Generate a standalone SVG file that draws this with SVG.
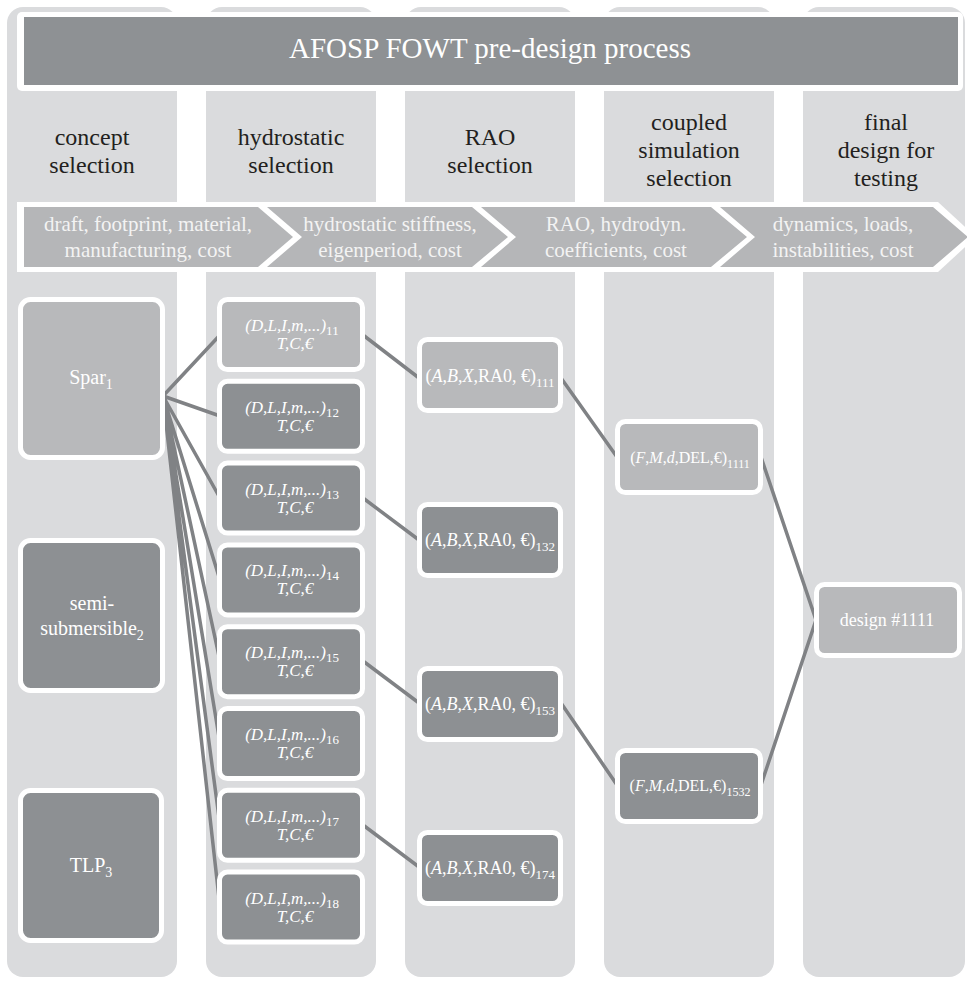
<svg xmlns="http://www.w3.org/2000/svg" width="967" height="982" viewBox="0 0 967 982" font-family="'Liberation Serif', 'Times New Roman', Times, 'DejaVu Serif', serif">
<style>
.col{fill:#dadbdd}
.nd{stroke:#fff;stroke-width:5}
.lt{fill:#b8b9bb}
.dk{fill:#8d9093}
.arw{fill:#b5b6b8}
text{font-family:'Liberation Serif','Times New Roman',Times,'DejaVu Serif',serif}
.t{fill:#fff;text-anchor:middle}
.at{fill:#f3f3f3;text-anchor:middle;font-size:21px}
.h{fill:#231f20;font-size:24px;text-anchor:middle}
.i{font-style:italic}
.cn{stroke:#808285;stroke-width:3.5;fill:none}
</style>
<rect width="967" height="982" fill="#fff"/>
<g id="columns">
<rect class="col" x="7" y="7" width="170" height="970" rx="16"/>
<rect class="col" x="206" y="7" width="170" height="970" rx="16"/>
<rect class="col" x="405" y="7" width="170" height="970" rx="16"/>
<rect class="col" x="604" y="7" width="170" height="970" rx="16"/>
<rect class="col" x="803" y="7" width="162" height="970" rx="16"/>
</g>
<g id="title">
<rect x="17" y="12" width="946" height="79" rx="5" fill="#fff"/>
<rect x="24" y="17" width="934" height="68" fill="#8e9194"/>
<text class="t" x="490" y="58" font-size="29">AFOSP FOWT pre-design process</text>
</g>
<g id="headers">
<text class="h" x="92" y="145">concept</text>
<text class="h" x="92" y="173">selection</text>
<text class="h" x="291" y="145">hydrostatic</text>
<text class="h" x="291" y="173">selection</text>
<text class="h" x="490" y="145">RAO</text>
<text class="h" x="490" y="173">selection</text>
<text class="h" x="689" y="130">coupled</text>
<text class="h" x="689" y="158">simulation</text>
<text class="h" x="689" y="186">selection</text>
<text class="h" x="886" y="130">final</text>
<text class="h" x="886" y="158">design for</text>
<text class="h" x="886" y="186">testing</text>
</g>
<g id="band">
<polygon points="17,202 938,202 976,237 938,272 17,272" fill="#fff"/>
<polygon class="arw" points="24,207 258,207 293,237 258,267 24,267"/>
<polygon class="arw" points="267,207 472,207 508,237 472,267 267,267 302,237"/>
<polygon class="arw" points="481,207 711,207 747,237 711,267 481,267 516,237"/>
<polygon class="arw" points="720,207 933,207 968,237 933,267 720,267 755,237"/>
<text class="at" x="148" y="231">draft, footprint, material,</text>
<text class="at" x="148" y="257">manufacturing, cost</text>
<text class="at" x="390" y="231">hydrostatic stiffness,</text>
<text class="at" x="390" y="257">eigenperiod, cost</text>
<text class="at" x="616" y="231">RAO, hydrodyn.</text>
<text class="at" x="616" y="257">coefficients, cost</text>
<text class="at" x="843" y="231">dynamics, loads,</text>
<text class="at" x="843" y="257">instabilities, cost</text>
</g>
<g id="connectors">
<path class="cn" d="M163,396 L220,335 M163,396 L220,416 M163,396 L220,498 M163,396 L220,580 M163,396 L220,661 M163,396 L220,743 M163,396 L220,825 M163,396 L220,907"/>
<path class="cn" d="M363,335 L419,378 M363,498 L419,540 M363,661 L419,703 M363,825 L419,867"/>
<path class="cn" d="M561,378 L617,457 M561,703 L617,785"/>
<path class="cn" d="M761,457 L816,620 L761,785"/>
</g>
<g id="spar">
<rect class="nd lt" x="20.5" y="299.5" width="142" height="158" rx="10"/>
<text class="t" x="91" y="384" font-size="20">Spar<tspan font-size="14" dy="5">1</tspan></text>
</g>
<g id="semi">
<rect class="nd dk" x="20.5" y="540.5" width="142" height="150" rx="10"/>
<text class="t" x="92" y="610" font-size="20">semi-</text>
<text class="t" x="92" y="635" font-size="20">submersible<tspan font-size="14" dy="5">2</tspan></text>
</g>
<g id="tlp">
<rect class="nd dk" x="20.5" y="790.5" width="141" height="150" rx="10"/>
<text class="t" x="91" y="872" font-size="20">TLP<tspan font-size="14" dy="5">3</tspan></text>
</g>
<g id="h11">
<rect class="nd lt" x="219.5" y="299.5" width="143" height="70" rx="8"/>
<text class="t" x="292" y="331" font-size="17"><tspan class="i">(D,L,I,m,...)</tspan><tspan font-size="13" dy="4">11</tspan></text>
<text class="t i" x="295" y="349" font-size="17">T,C,€</text>
</g>
<g id="h12">
<rect class="nd dk" x="219.5" y="381.3" width="143" height="70" rx="8"/>
<text class="t" x="292" y="412.8" font-size="17"><tspan class="i">(D,L,I,m,...)</tspan><tspan font-size="13" dy="4">12</tspan></text>
<text class="t i" x="295" y="430.8" font-size="17">T,C,€</text>
</g>
<g id="h13">
<rect class="nd dk" x="219.5" y="463.1" width="143" height="70" rx="8"/>
<text class="t" x="292" y="494.6" font-size="17"><tspan class="i">(D,L,I,m,...)</tspan><tspan font-size="13" dy="4">13</tspan></text>
<text class="t i" x="295" y="512.6" font-size="17">T,C,€</text>
</g>
<g id="h14">
<rect class="nd dk" x="219.5" y="544.9" width="143" height="70" rx="8"/>
<text class="t" x="292" y="576.4" font-size="17"><tspan class="i">(D,L,I,m,...)</tspan><tspan font-size="13" dy="4">14</tspan></text>
<text class="t i" x="295" y="594.4" font-size="17">T,C,€</text>
</g>
<g id="h15">
<rect class="nd dk" x="219.5" y="626.7" width="143" height="70" rx="8"/>
<text class="t" x="292" y="658.2" font-size="17"><tspan class="i">(D,L,I,m,...)</tspan><tspan font-size="13" dy="4">15</tspan></text>
<text class="t i" x="295" y="676.2" font-size="17">T,C,€</text>
</g>
<g id="h16">
<rect class="nd dk" x="219.5" y="708.5" width="143" height="70" rx="8"/>
<text class="t" x="292" y="740" font-size="17"><tspan class="i">(D,L,I,m,...)</tspan><tspan font-size="13" dy="4">16</tspan></text>
<text class="t i" x="295" y="758" font-size="17">T,C,€</text>
</g>
<g id="h17">
<rect class="nd dk" x="219.5" y="790.3" width="143" height="70" rx="8"/>
<text class="t" x="292" y="821.8" font-size="17"><tspan class="i">(D,L,I,m,...)</tspan><tspan font-size="13" dy="4">17</tspan></text>
<text class="t i" x="295" y="839.8" font-size="17">T,C,€</text>
</g>
<g id="h18">
<rect class="nd dk" x="219.5" y="872.1" width="143" height="70" rx="8"/>
<text class="t" x="292" y="903.6" font-size="17"><tspan class="i">(D,L,I,m,...)</tspan><tspan font-size="13" dy="4">18</tspan></text>
<text class="t i" x="295" y="921.6" font-size="17">T,C,€</text>
</g>
<g id="r111">
<rect class="nd lt" x="419.5" y="339.5" width="141" height="71" rx="8"/>
<text class="t" x="490" y="382" font-size="18">(<tspan class="i">A</tspan>,<tspan class="i">B</tspan>,<tspan class="i">X</tspan>,RA0, €)<tspan font-size="13" dy="5">111</tspan></text>
</g>
<g id="r132">
<rect class="nd dk" x="419.5" y="504.5" width="141" height="71" rx="8"/>
<text class="t" x="490" y="546" font-size="18">(<tspan class="i">A</tspan>,<tspan class="i">B</tspan>,<tspan class="i">X</tspan>,RA0, €)<tspan font-size="13" dy="5">132</tspan></text>
</g>
<g id="r153">
<rect class="nd dk" x="419.5" y="668.5" width="141" height="71" rx="8"/>
<text class="t" x="490" y="710" font-size="18">(<tspan class="i">A</tspan>,<tspan class="i">B</tspan>,<tspan class="i">X</tspan>,RA0, €)<tspan font-size="13" dy="5">153</tspan></text>
</g>
<g id="r174">
<rect class="nd dk" x="419.5" y="832.5" width="141" height="71" rx="8"/>
<text class="t" x="490" y="874" font-size="18">(<tspan class="i">A</tspan>,<tspan class="i">B</tspan>,<tspan class="i">X</tspan>,RA0, €)<tspan font-size="13" dy="5">174</tspan></text>
</g>
<g id="c1111">
<rect class="nd lt" x="617.5" y="421.5" width="143" height="71" rx="8"/>
<text class="t" x="690" y="463" font-size="16">(<tspan class="i">F</tspan>,<tspan class="i">M</tspan>,<tspan class="i">d</tspan>,DEL,€)<tspan font-size="12" dy="5">1111</tspan></text>
</g>
<g id="c1532">
<rect class="nd dk" x="617.5" y="750.5" width="143" height="71" rx="8"/>
<text class="t" x="690" y="791" font-size="16">(<tspan class="i">F</tspan>,<tspan class="i">M</tspan>,<tspan class="i">d</tspan>,DEL,€)<tspan font-size="12" dy="5">1532</tspan></text>
</g>
<g id="design">
<rect class="nd lt" x="816.5" y="584.5" width="143" height="71" rx="8"/>
<text class="t" x="887" y="626" font-size="18">design #1111</text>
</g>
</svg>
